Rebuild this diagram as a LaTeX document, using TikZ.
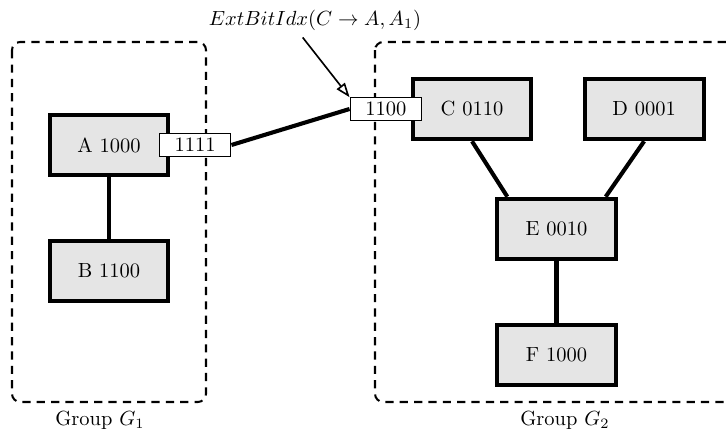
\documentclass[tikz,border=0pt]{standalone}
\usepackage{xcolor}
\usepackage{tikz}
\usepackage{amsmath}
\usetikzlibrary{arrows.meta,positioning}

\begin{document}
\begin{tikzpicture}[
  x=0.488pt, y=-0.488pt,
  node distance=30pt and 24pt,
  grp/.style={draw, dash pattern=on 4pt off 3pt, line width=1pt, rounded corners=4pt},
  unit/.style={draw, line width=2pt, fill=gray!20, minimum width=58pt, minimum height=29.5pt},
  tag/.style={draw, line width=0.5pt, fill=white, minimum width=35pt, minimum height=11pt, inner sep=1pt},
  link/.style={line width=2pt},
  pointer/.style={-{Triangle[open, length=7pt, width=5pt]}, line width=0.8pt}
]
\useasboundingbox (0,0) rectangle (728,439);

% groups
\draw[grp] (12,42) rectangle (206,402);
\draw[grp] (375,42) rectangle (745,402);
\node (g1) at (100,420) {Group $G_1$};
\node (g2) at (565,420) {Group $G_2$};

% units of group 1
\node[unit] (A) at (109,145) {A 1000};
\node[unit, below=of A] (B) {B 1100};

% units of group 2
\node[unit] (C) at (472,109) {C 0110};
\node[unit, right=of C] (D) {D 0001};
\node[unit] (E) at (556.5,229) {E 0010};
\node[unit, below=of E] (F) {F 1000};

\draw[link] (A) -- (B);
\draw[link] (C.south) -- ([xshift=-24pt]E.north);
\draw[link] (D.south) -- ([xshift=24pt]E.north);
\draw[link] (E) -- (F);

% external bit indices
\node[tag] (tA) at ([xshift=12pt]A.east) {1111};
\node[tag] (tC) at ([xshift=-12pt]C.west) {1100};
\draw[link] (tA.east) -- (tC.west);

\node (note) at (315,20) {$ExtBitIdx(C \rightarrow A, A_1)$};
\draw[pointer] ([xshift=-6pt]note.south) -- (tC.north west);
\end{tikzpicture}
\end{document}
